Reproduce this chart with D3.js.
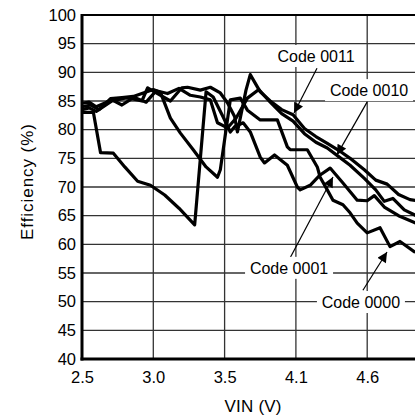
<!DOCTYPE html>
<html>
<head>
<meta charset="utf-8">
<script src="https://cdn.jsdelivr.net/npm/d3@7"></script>
<style>
  body { margin: 0; background: #fff; }
  text { font-family: "Liberation Sans", Arial, sans-serif; }
</style>
</head>
<body>
<svg id="chart" width="415" height="419"></svg>
<script>
// tick positions and their printed labels (the source chart labels them oddly)
var xTicks = [2.5, 3.0, 3.5, 4.0, 4.5];
var xTickLabels = ["2.5", "3.0", "3.5", "4.1", "4.6"];
var yTicks = [40, 45, 50, 55, 60, 65, 70, 75, 80, 85, 90, 95, 100];

// [VIN, efficiency %]
var code0000 = [[2.5,84],[2.56,84.3],[2.62,83.5],[2.7,85.4],[2.78,85.6],[2.86,85.8],[2.93,86.4],[3.0,87],
  [3.05,86.5],[3.12,82],[3.19,79.4],[3.28,76.5],[3.37,73.5],[3.45,71.7],[3.47,73],[3.54,85.2],[3.61,85.5],
  [3.66,83.4],[3.75,81.7],[3.87,81.7],[3.94,77],[3.96,76.5],[4.08,76.5],[4.15,73.5],[4.17,71.7],[4.22,69.5],
  [4.26,67.7],[4.33,66.9],[4.38,65.5],[4.43,63.7],[4.5,62],[4.59,62.9],[4.66,59.6],[4.73,60.5],[4.83,58.7],[4.86,58.6]];
var code0001 = [[2.5,83],[2.58,83],[2.63,76],[2.72,75.9],[2.8,73.5],[2.89,71],[2.98,70.3],[3.08,68.6],
  [3.18,66.3],[3.29,63.4],[3.37,86.6],[3.42,85.7],[3.49,82.2],[3.54,79.6],[3.57,80.5],[3.63,81.2],[3.68,79.6],
  [3.75,75.2],[3.78,74.2],[3.85,75.6],[3.94,73.8],[4.01,70],[4.03,69.5],[4.1,70.3],[4.17,72.1],[4.24,73.3],
  [4.33,70.7],[4.43,67.7],[4.5,67.6],[4.55,68.5],[4.62,66.5],[4.72,65],[4.86,63.5]];
var code0010 = [[2.5,83.5],[2.55,83.8],[2.6,83.2],[2.71,85],[2.8,85.5],[2.88,85.5],[2.95,84.8],[3.02,86.8],
  [3.1,86.3],[3.18,87.2],[3.26,86],[3.33,85.7],[3.4,85.2],[3.45,81.2],[3.52,80.3],[3.58,82],[3.66,85.5],
  [3.74,87],[3.82,84.8],[3.9,82.8],[3.98,81.5],[4.06,79.3],[4.14,77.8],[4.22,76.8],[4.3,75.3],[4.38,73.8],
  [4.48,71.5],[4.56,69.5],[4.62,67.5],[4.68,68],[4.76,66],[4.86,64.8]];
var code0011 = [[2.5,84.6],[2.55,84.8],[2.6,84],[2.71,85.2],[2.78,84.3],[2.85,85.4],[2.92,85],[2.96,87.3],
  [3.03,86.3],[3.12,85],[3.2,87.3],[3.24,87.4],[3.33,86.9],[3.4,87.4],[3.47,86.4],[3.52,84.7],[3.57,82.3],
  [3.59,79.6],[3.65,86.9],[3.68,89.6],[3.75,86.6],[3.82,85],[3.9,83.5],[3.98,82.6],[4.06,80.2],[4.14,78.8],
  [4.22,77.6],[4.3,76.4],[4.38,75],[4.48,73],[4.56,71.2],[4.64,70.5],[4.72,68.7],[4.8,67.8],[4.86,67.6]];

var series = [code0000, code0001, code0010, code0011];

// callouts: label centre, arrow start, arrow tip (data units)
var callouts = [
  { text: "Code 0011", lx: 4.141, ly: 92.85, x1: 4.148, y1: 90.7, x2: 3.987, y2: 82.9 },
  { text: "Code 0010", lx: 4.513, ly: 86.9, x1: 4.499, y1: 84.8, x2: 4.288, y2: 75.6 },
  { text: "Code 0001", lx: 3.952, ly: 55.9, x1: 3.959, y1: 57.6, x2: 4.26, y2: 71.75 },
  { text: "Code 0000", lx: 4.456, ly: 49.94, x1: 4.47, y1: 52.0, x2: 4.639, y2: 58.66 }
];

var svg = d3.select("#chart"),
    mLeft = 82, mTop = 15, mBottom = 359, mRight = 438.5;

var x = d3.scaleLinear().domain([2.5, 5.0]).range([mLeft, mRight]);
var y = d3.scaleLinear().domain([40, 100]).range([mBottom, mTop]);

// grid
svg.append("g")
    .selectAll("line")
    .data(yTicks.filter(function(d) { return d > 40 && d < 100; }))
    .enter().append("line")
      .attr("x1", mLeft).attr("x2", 415)
      .attr("y1", function(d) { return y(d); })
      .attr("y2", function(d) { return y(d); })
      .attr("stroke", "#333").attr("stroke-width", 1.3);

svg.append("g")
    .selectAll("line")
    .data(xTicks.slice(1))
    .enter().append("line")
      .attr("x1", function(d) { return x(d); })
      .attr("x2", function(d) { return x(d); })
      .attr("y1", mTop).attr("y2", mBottom)
      .attr("stroke", "#333").attr("stroke-width", 1.3);

// axes labels
var yAxis = svg.append("g")
    .attr("transform", "translate(" + mLeft + ",0)")
    .call(d3.axisLeft(y).tickValues(yTicks).tickSize(0).tickPadding(6));
yAxis.select(".domain").remove();
yAxis.selectAll("text").style("font-size", "16.5px").attr("fill", "#000");

var xAxis = svg.append("g")
    .attr("transform", "translate(0," + mBottom + ")")
    .call(d3.axisBottom(x).tickValues(xTicks).tickSize(0).tickPadding(12.5)
      .tickFormat(function(d, i) { return xTickLabels[i]; }));
xAxis.select(".domain").remove();
xAxis.selectAll("text").style("font-size", "16.5px").attr("fill", "#000");

// data lines
var line = d3.line()
    .x(function(d) { return x(d[0]); })
    .y(function(d) { return y(d[1]); });

svg.append("g")
    .selectAll("path")
    .data(series)
    .enter().append("path")
      .attr("d", line)
      .attr("fill", "none")
      .attr("stroke", "#000")
      .attr("stroke-width", 3.2)
      .attr("stroke-linejoin", "round");

// frame
svg.append("line").attr("x1", mLeft).attr("x2", 415).attr("y1", mTop).attr("y2", mTop)
    .attr("stroke", "#000").attr("stroke-width", 2);
svg.append("line").attr("x1", mLeft).attr("x2", mLeft).attr("y1", mTop - 1).attr("y2", mBottom + 1.5)
    .attr("stroke", "#000").attr("stroke-width", 3);
svg.append("line").attr("x1", mLeft - 1.5).attr("x2", 415).attr("y1", mBottom).attr("y2", mBottom)
    .attr("stroke", "#000").attr("stroke-width", 3);

// axis titles
svg.append("text")
    .attr("x", 253).attr("y", 412)
    .attr("text-anchor", "middle")
    .attr("textLength", 57)
    .style("font-size", "17px")
    .text("VIN (V)");

svg.append("text")
    .attr("transform", "translate(33,182) rotate(-90)")
    .attr("text-anchor", "middle")
    .attr("textLength", 116)
    .style("font-size", "17px")
    .text("Efficiency (%)");

// arrowhead
svg.append("defs").append("marker")
    .attr("id", "arrow")
    .attr("viewBox", "0 0 10 10")
    .attr("refX", 10).attr("refY", 5)
    .attr("markerWidth", 12).attr("markerHeight", 10)
    .attr("markerUnits", "userSpaceOnUse")
    .attr("orient", "auto")
  .append("path")
    .attr("d", "M0,0L10,5L0,10z")
    .attr("fill", "#000");

var co = svg.append("g").selectAll("g")
    .data(callouts)
    .enter().append("g");

co.append("line")
    .attr("x1", function(d) { return x(d.x1); })
    .attr("y1", function(d) { return y(d.y1); })
    .attr("x2", function(d) { return x(d.x2); })
    .attr("y2", function(d) { return y(d.y2); })
    .attr("stroke", "#000").attr("stroke-width", 1.2)
    .attr("marker-end", "url(#arrow)");

co.append("rect")
    .attr("x", function(d) { return x(d.lx) - 44; })
    .attr("y", function(d) { return y(d.ly) - 11; })
    .attr("width", 88).attr("height", 22)
    .attr("fill", "#fff");

co.append("text")
    .attr("x", function(d) { return x(d.lx); })
    .attr("y", function(d) { return y(d.ly); })
    .attr("dy", "0.36em")
    .attr("text-anchor", "middle")
    .style("font-size", "16px")
    .text(function(d) { return d.text; });
</script>
</body>
</html>
